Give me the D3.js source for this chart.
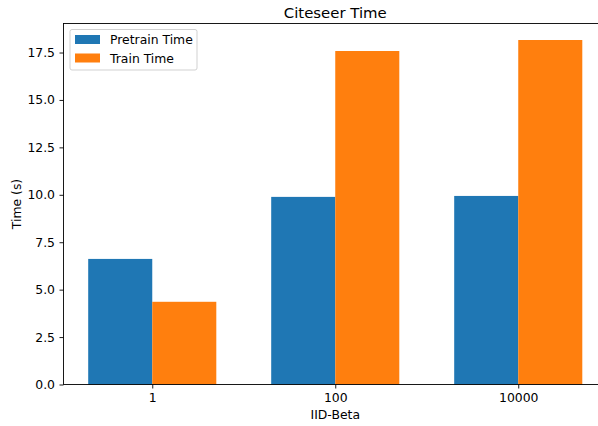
<!DOCTYPE html>
<html>
<head>
<meta charset="utf-8">
<script src="https://cdn.jsdelivr.net/npm/d3@7"></script>
<style>
  html, body { margin: 0; padding: 0; background: #fff; }
  svg { display: block; font-family: "DejaVu Sans", sans-serif; }
</style>
</head>
<body>
<div id="chart"></div>
<script>
// data
const categories = ['1', '100', '10000'];
const pretrainTime = [6.62, 9.89, 9.94];
const trainTime = [4.36, 17.58, 18.16];
const seriesNames = ['Pretrain Time', 'Train Time'];
const seriesColors = ['#1f77b4', '#ff7f0e'];
const yTicks = [0, 2.5, 5, 7.5, 10, 12.5, 15, 17.5];

const W = 598, H = 426;
const svg = d3.select('#chart').append('svg')
  .attr('width', W).attr('height', H);

// axes box (right edge runs past the window, as in the reference)
const m = {left: 63.5, right: 607, top: 23.5, bottom: 384.5};
const barW = 0.35;
const fs = 12.4;

const x = d3.scaleLinear().domain([-0.485, 2.485]).range([m.left, m.right]);
const y = d3.scaleLinear().domain([0, 19.03]).range([m.bottom, m.top]);

const series = [pretrainTime, trainTime];

// bars
series.forEach((vals, s) => {
  svg.append('g').selectAll('rect').data(vals).enter().append('rect')
    .attr('x', (d, i) => x(i + (s === 0 ? -barW : 0)))
    .attr('width', x(barW) - x(0))
    .attr('y', d => y(d))
    .attr('height', d => y(0) - y(d))
    .attr('fill', seriesColors[s]);
});

// y axis
const yAxis = d3.axisLeft(y).tickValues(yTicks).tickFormat(d3.format('.1f')).tickSize(4).tickPadding(4.5);
const gy = svg.append('g').attr('transform', `translate(${m.left},0)`).call(yAxis);
gy.select('.domain').remove();
gy.selectAll('text').attr('font-size', fs).attr('fill', '#000').attr('font-family', '"DejaVu Sans", sans-serif');
gy.selectAll('line').attr('stroke', '#000').attr('stroke-width', 0.9);

// x axis
const xAxis = d3.axisBottom(x).tickValues(d3.range(categories.length))
  .tickFormat(i => categories[i]).tickSize(4).tickPadding(4.5);
const gx = svg.append('g').attr('transform', `translate(0,${m.bottom})`).call(xAxis);
gx.select('.domain').remove();
gx.selectAll('text').attr('font-size', fs).attr('fill', '#000').attr('font-family', '"DejaVu Sans", sans-serif');
gx.selectAll('line').attr('stroke', '#000').attr('stroke-width', 0.9);

// spines
svg.append('rect')
  .attr('x', m.left).attr('y', m.top)
  .attr('width', m.right - m.left).attr('height', m.bottom - m.top)
  .attr('fill', 'none').attr('stroke', '#000').attr('stroke-width', 0.9);

// title & labels
svg.append('text').attr('x', (m.left + m.right) / 2).attr('y', 17.5)
  .attr('text-anchor', 'middle').attr('font-size', 14.9).text('Citeseer Time');
svg.append('text').attr('x', (m.left + m.right) / 2).attr('y', 419)
  .attr('text-anchor', 'middle').attr('font-size', fs).text('IID-Beta');
svg.append('text')
  .attr('transform', `translate(20.5,${(m.top + m.bottom) / 2}) rotate(-90)`)
  .attr('text-anchor', 'middle').attr('font-size', fs).text('Time (s)');

// legend
const lg = svg.append('g').attr('transform', 'translate(70,29.5)');
lg.append('rect').attr('width', 127).attr('height', 40.5).attr('rx', 2)
  .attr('fill', '#fff').attr('fill-opacity', 0.8)
  .attr('stroke', '#ccc').attr('stroke-width', 0.9);
seriesNames.forEach((name, s) => {
  lg.append('rect').attr('x', 5).attr('y', 5.5 + s * 18.5)
    .attr('width', 25).attr('height', 9).attr('fill', seriesColors[s]);
  lg.append('text').attr('x', 40).attr('y', 14.5 + s * 18.5)
    .attr('font-size', fs).text(name);
});
</script>
</body>
</html>
